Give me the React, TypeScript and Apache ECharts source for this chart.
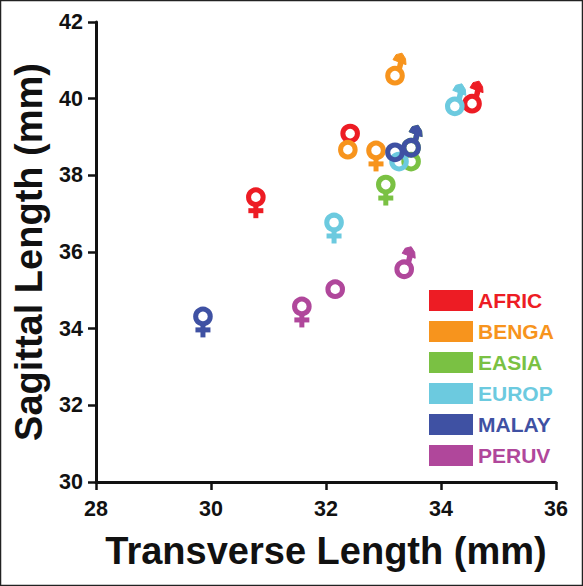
import React, { useEffect, useRef } from "react";
import * as echarts from "echarts";

const populations = ["AFRIC", "BENGA", "EASIA", "EUROP", "MALAY", "PERUV"];
const colors = ["#ED1C24", "#F7941D", "#7AC143", "#6CCADF", "#3F51A3", "#B0479B"];
// Each list: female, sex-pooled, male as [transverse, sagittal]
const afric = [[30.78, 37.43], [32.42, 39.09], [34.54, 39.87]];
const benga = [[32.87, 38.65], [32.38, 38.67], [33.2, 40.6]];
const easia = [[33.04, 37.76], [33.48, 38.36], [33.48, 38.72]];
const europ = [[32.14, 36.77], [33.27, 38.36], [34.24, 39.8]];
const malay = [[29.86, 34.32], [33.2, 38.6], [33.48, 38.72]];
const peruv = [[31.58, 34.58], [32.16, 35.03], [33.36, 35.55]];
const groups = [afric, benga, easia, europ, malay, peruv];
const xTicks = { min: 28, max: 36, interval: 2 };
const yTicks = { min: 30, max: 42, interval: 2 };

const FONT = "'Liberation Sans', Arial, sans-serif";

function glyph(color: string) {
  return (params: any, api: any) => {
    const [cx, cy] = api.coord([api.value(0), api.value(1)]);
    const kind = params.dataIndex; // 0 female, 1 pooled, 2 male
    const children: any[] = [];
    if (kind === 0) {
      children.push(
        { type: "rect", shape: { x: cx - 2.5, y: cy + 8, width: 5, height: 13 }, style: { fill: color } },
        { type: "rect", shape: { x: cx - 7.5, y: cy + 11, width: 15, height: 5 }, style: { fill: color } }
      );
    }
    if (kind === 2) {
      children.push(
        { type: "polygon", shape: { points: [[cx + 1.5, cy - 7], [cx + 6.5, cy - 5], [cx + 9, cy - 14], [cx + 3.5, cy - 16]] }, style: { fill: color } },
        { type: "polygon", shape: { points: [[cx + 7, cy - 22.5], [cx + 1, cy - 21], [cx - 2, cy - 16], [cx + 11, cy - 11], [cx + 10.5, cy - 17]] }, style: { fill: color, stroke: color, lineWidth: 1, lineJoin: "round" } }
      );
    }
    children.push({ type: "circle", shape: { cx, cy, r: 7.3 }, style: { fill: "none", stroke: color, lineWidth: 5 } });
    return { type: "group", children };
  };
}

export default function App() {
  const ref = useRef<HTMLDivElement>(null);
  useEffect(() => {
    document.body.style.margin = "0";
    const chart = echarts.init(ref.current!, undefined, { renderer: "svg" });
    const axisCommon = {
      type: "value",
      nameLocation: "middle",
      splitLine: { show: false },
      axisLine: { show: true, onZero: false, lineStyle: { color: "#111", width: 3 } },
      axisTick: { show: true, length: 8, lineStyle: { color: "#111", width: 2.5 } },
      axisLabel: { color: "#111", fontFamily: FONT, fontWeight: "bold", fontSize: 21.5, margin: 13 },
      nameTextStyle: { color: "#111", fontFamily: FONT, fontWeight: "bold", fontSize: 38 },
    };
    chart.setOption({
      animation: false,
      backgroundColor: "#fff",
      grid: { left: 96, right: 27, top: 22, bottom: 104 },
      xAxis: { ...axisCommon, ...xTicks, name: "Transverse Length (mm)", nameGap: 50, axisLabel: { ...axisCommon.axisLabel, margin: 16 } },
      yAxis: { ...axisCommon, ...yTicks, name: "Sagittal Length (mm)", nameGap: 47 },
      legend: {
        orient: "vertical", left: 429, top: 290, icon: "rect", padding: 0,
        itemWidth: 44, itemHeight: 21, itemGap: 10,
        textStyle: { fontFamily: FONT, fontWeight: "bold", fontSize: 21 },
        selectedMode: false,
        data: populations.map((name, i) => ({ name, textStyle: { color: colors[i] } })),
      },
      graphic: [{ type: "rect", shape: { x: 0.5, y: 0.5, width: 582, height: 585 }, style: { fill: "none", stroke: "#222", lineWidth: 1.5 }, silent: true }],
      series: populations.map((name, i) => ({
        type: "custom",
        name,
        clip: false,
        itemStyle: { color: colors[i] },
        encode: { x: 0, y: 1 },
        data: groups[i],
        renderItem: glyph(colors[i]),
      })),
    });
    return () => chart.dispose();
  }, []);
  return <div ref={ref} style={{ width: 583, height: 586 }} />;
}
